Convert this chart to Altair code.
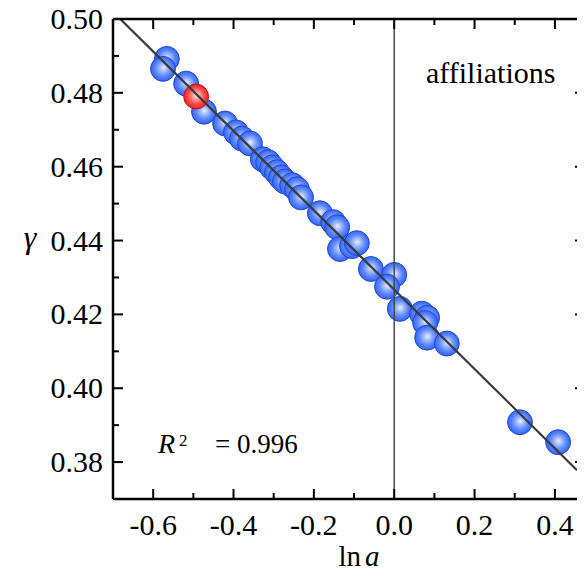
import altair as alt
import pandas as pd

# ---- data ----
ln_a = [-0.566, -0.5755, -0.518, -0.4735, -0.421, -0.394, -0.379, -0.359,
        -0.327, -0.314, -0.304, -0.292, -0.282, -0.272, -0.254, -0.242,
        -0.232, -0.185, -0.152, -0.142, -0.135, -0.105, -0.093, -0.058,
        0.0, -0.018, 0.014, 0.069, 0.082, 0.077, 0.082, 0.131, 0.313, 0.408]
gamma = [0.4892, 0.4865, 0.4825, 0.4749, 0.4717, 0.4693, 0.4676, 0.4663,
         0.4620, 0.4612, 0.4598, 0.4585, 0.4571, 0.4560, 0.4550, 0.4539,
         0.4517, 0.4474, 0.4450, 0.4436, 0.4377, 0.4385, 0.4393, 0.4323,
         0.4307, 0.4275, 0.4215, 0.4202, 0.4191, 0.4177, 0.4137, 0.4121,
         0.3908, 0.3854]
red_ln_a = [-0.493]
red_gamma = [0.4790]

fit_intercept = 0.4267
fit_slope = -0.1075
fit_ln_a = [-0.70, 0.455]

x_major = [-0.6, -0.4, -0.2, 0.0, 0.2, 0.4]
x_labels = ["-0.6", "-0.4", "-0.2", "0.0", "0.2", "0.4"]
x_minor = [-0.5, -0.3, -0.1, 0.1, 0.3]
y_major = [0.38, 0.40, 0.42, 0.44, 0.46, 0.48, 0.50]
y_labels = ["0.38", "0.40", "0.42", "0.44", "0.46", "0.48", "0.50"]
y_minor = [0.39, 0.41, 0.43, 0.45, 0.47, 0.49]

W, H = 464, 480
FONT = "Liberation Serif"

xs = alt.Scale(domain=[-0.7, 0.455], nice=False, zero=False)
ys = alt.Scale(domain=[0.37, 0.50], nice=False, zero=False)

pts = pd.DataFrame({"x": ln_a, "y": gamma})
red = pd.DataFrame({"x": red_ln_a, "y": red_gamma})
fit = pd.DataFrame({"x": fit_ln_a, "y": [fit_intercept + fit_slope * v for v in fit_ln_a]})

blue_grad = {
    "gradient": "radial", "x1": 0.52, "y1": 0.45, "r1": 0,
    "x2": 0.5, "y2": 0.5, "r2": 0.55,
    "stops": [
        {"offset": 0.0, "color": "#eef3ff"},
        {"offset": 0.25, "color": "#a8bfff"},
        {"offset": 0.6, "color": "#5a86fb"},
        {"offset": 1.0, "color": "#2a5af0"},
    ],
}
red_grad = {
    "gradient": "radial", "x1": 0.52, "y1": 0.45, "r1": 0,
    "x2": 0.5, "y2": 0.5, "r2": 0.55,
    "stops": [
        {"offset": 0.0, "color": "#ffeaea"},
        {"offset": 0.25, "color": "#ffa4a4"},
        {"offset": 0.6, "color": "#ff4a4a"},
        {"offset": 1.0, "color": "#e61a1a"},
    ],
}


def X(field="x"):
    return alt.X(field + ":Q", scale=xs, axis=None)


def Y(field="y"):
    return alt.Y(field + ":Q", scale=ys, axis=None)


blue = alt.Chart(pts).mark_point(
    shape="circle", filled=True, size=620, fill=blue_grad,
    stroke="#1f47d8", strokeWidth=1, opacity=1
).encode(x=X(), y=Y())

redpt = alt.Chart(red).mark_point(
    shape="circle", filled=True, size=620, fill=red_grad,
    stroke="#c81414", strokeWidth=1, opacity=1
).encode(x=X(), y=Y())

fitline = alt.Chart(fit).mark_line(color="#3a3a3a", strokeWidth=2.2, clip=True).encode(x=X(), y=Y())

zero = alt.Chart(pd.DataFrame({"x": [0.0]})).mark_rule(color="#4a4a4a", strokeWidth=1.5).encode(
    x=X(), y=alt.value(0), y2=alt.value(H))

one = pd.DataFrame({"a": [0]})
frame = [
    alt.Chart(one).mark_rule(color="black", strokeWidth=2.5).encode(
        x=alt.value(0), x2=alt.value(W), y=alt.value(0)),
    alt.Chart(one).mark_rule(color="black", strokeWidth=2.5).encode(
        x=alt.value(0), x2=alt.value(W), y=alt.value(H)),
    alt.Chart(one).mark_rule(color="black", strokeWidth=2.5).encode(
        x=alt.value(0), y=alt.value(0), y2=alt.value(H)),
]


def xticks(vals, y0, y1):
    return alt.Chart(pd.DataFrame({"x": vals})).mark_rule(color="black", strokeWidth=2).encode(
        x=X(), y=alt.value(y0), y2=alt.value(y1))


def yticks(vals, x0, x1):
    return alt.Chart(pd.DataFrame({"y": vals})).mark_rule(color="black", strokeWidth=2).encode(
        y=Y(), x=alt.value(x0), x2=alt.value(x1))


ticks = [
    xticks(x_major, H, H - 10), xticks(x_minor, H, H - 6),
    xticks(x_major, 0, 10), xticks(x_minor, 0, 6),
    yticks(y_major, 0, 10), yticks(y_minor, 0, 6),
    yticks(y_major, W - 2, W),
]

xlab = alt.Chart(pd.DataFrame({"x": x_major, "t": x_labels})).mark_text(
    font=FONT, fontSize=30, align="center", baseline="alphabetic", color="black"
).encode(x=X(), y=alt.value(H + 36), text="t:N")

ylab = alt.Chart(pd.DataFrame({"y": y_major, "t": y_labels})).mark_text(
    font=FONT, fontSize=30, align="right", baseline="alphabetic", color="black", dy=10
).encode(y=Y(), x=alt.value(-10), text="t:N")


def label(txt, x, y, size, style="normal", align="left"):
    return alt.Chart(pd.DataFrame({"t": [txt]})).mark_text(
        font=FONT, fontSize=size, fontStyle=style, align=align,
        baseline="alphabetic", color="black"
    ).encode(x=alt.value(x), y=alt.value(y), text="t:N")


texts = [
    label("affiliations", 313, 64, 30),
    label("R", 45, 434, 28, "italic"),
    label("2", 66, 427, 17),
    label("= 0.996", 102, 434, 27),
    label("ln", 248, 547, 29, align="right"),
    label("a", 252, 547, 29, "italic"),
    label("\u03b3", -83, 229, 32, "italic", align="center"),
]

chart = alt.layer(blue, zero, redpt, fitline, *frame, *ticks, xlab, ylab, *texts).properties(
    width=W, height=H,
    autosize=alt.AutoSizeParams(type="none"),
    padding={"left": 105, "top": 11, "right": 0, "bottom": 74},
).configure_view(stroke=None).configure(background="white")

chart.save("out.html", embed_options={"renderer": "svg", "actions": False})
